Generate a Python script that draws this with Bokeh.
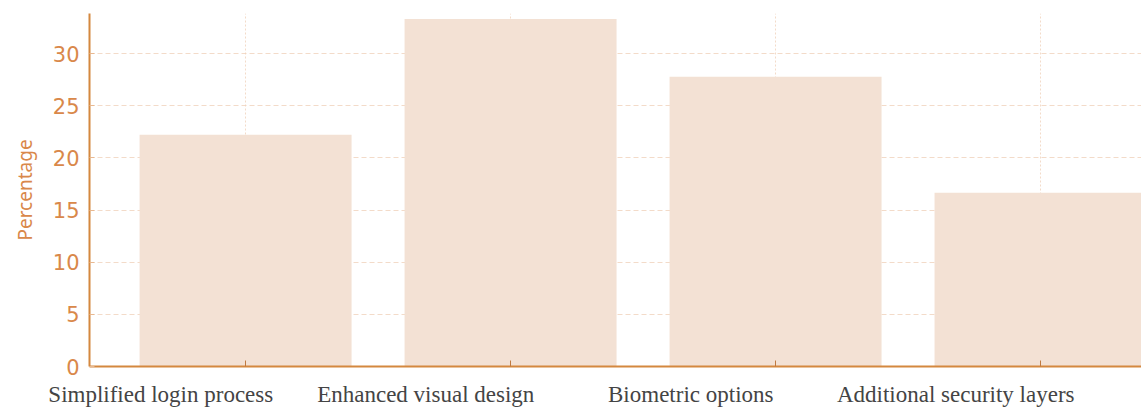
from bokeh.plotting import figure
from bokeh.models import Range1d, LinearAxis, FixedTicker, ColumnDataSource, Grid
from bokeh.embed import file_html
from bokeh.resources import INLINE

categories = ["Simplified login process", "Enhanced visual design",
              "Biometric options", "Additional security layers"]
percentages = [22.22, 33.33, 27.78, 16.67]
y_ticks = [0, 5, 10, 15, 20, 25, 30]

positions = list(range(len(categories)))
label_shift = -0.32

src = ColumnDataSource(dict(x=positions, top=percentages))

p = figure(width=1141, height=409, output_backend="svg", toolbar_location=None,
           x_range=Range1d(-0.589, 3.381), y_range=Range1d(0, 33.85),
           min_border_left=89, min_border_right=0, min_border_top=13,
           min_border_bottom=0, x_axis_location=None, y_axis_location=None)
p.outline_line_color = None
p.background_fill_color = "white"

p.vbar(x="x", top="top", width=0.8, source=src, fill_color="#F3E1D4",
       line_color=None)

# axis with tick marks only
xa = LinearAxis(ticker=FixedTicker(ticks=positions),
                major_label_overrides={i: "" for i in positions})
xa.major_label_text_font_size = "1px"
xa.major_label_standoff = 0
xa.axis_line_color = "#D4883F"
xa.axis_line_width = 2
xa.major_tick_line_color = "#C07A40"
xa.major_tick_in = 6
xa.major_tick_out = 0
xa.minor_tick_line_color = None
p.add_layout(xa, "below")

# label axis, shifted
p.extra_x_ranges = {"lab": Range1d(-0.589 - label_shift, 3.381 - label_shift)}
la = LinearAxis(x_range_name="lab", ticker=FixedTicker(ticks=positions),
                major_label_overrides={i: c for i, c in enumerate(categories)})
la.axis_line_color = None
la.major_tick_line_color = None
la.minor_tick_line_color = None
la.major_label_text_font = "Liberation Serif"
la.major_label_text_font_size = "23px"
la.major_label_text_color = "#444444"
la.major_label_standoff = 9
p.add_layout(la, "below")

ya = LinearAxis(ticker=FixedTicker(ticks=y_ticks), axis_label="Percentage")
ya.axis_line_color = "#D4883F"
ya.axis_line_width = 2
ya.major_tick_line_color = "#E8B890"
ya.major_tick_in = 5
ya.major_tick_out = 0
ya.minor_tick_line_color = None
ya.major_label_text_font = "DejaVu Sans"
ya.major_label_text_font_size = "21px"
ya.major_label_text_color = "#D9884A"
ya.major_label_standoff = 10
ya.axis_label_text_font = "Noto Sans"
ya.axis_label_text_font_size = "19px"
ya.axis_label_text_font_style = "normal"
ya.axis_label_text_color = "#D9884A"
ya.axis_label_standoff = 12
p.add_layout(ya, "left")

p.xgrid.visible = False
p.ygrid.visible = False
p.add_layout(Grid(dimension=0, ticker=xa.ticker, grid_line_color="#F0D2BC",
                  grid_line_dash="2 2", grid_line_alpha=0.8))
p.add_layout(Grid(dimension=1, ticker=ya.ticker, grid_line_color="#F0D2BC",
                  grid_line_dash="5 3", grid_line_alpha=0.8))

open("out.html", "w").write(file_html(p, INLINE))
